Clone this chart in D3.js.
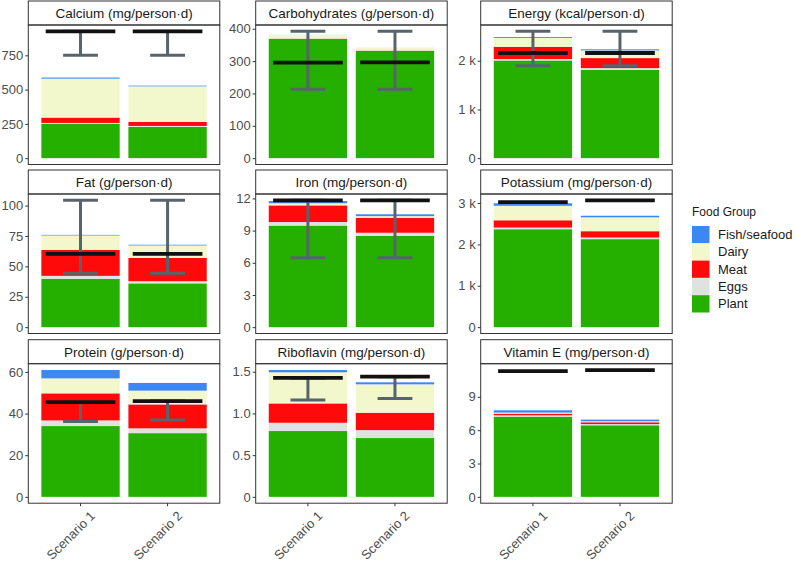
<!DOCTYPE html>
<html>
<head>
    <meta charset="UTF-8">
    <title>Nutrient supply by food group</title>
    <style>
        body { margin: 0; background: #fff; }
        svg { font-family: "Liberation Sans", Arial, sans-serif; }
        .tick text { fill: #4d4d4d; font-size: 13px; }
        .tick line { stroke: #333; }
        .domain { display: none; }
    </style>
</head>
<body>
<svg width="795" height="562"></svg>
<script src="https://d3js.org/d3.v7.min.js"></script>
<script>
    // data
    const nutrients = ["Calcium (mg/person\u00b7d)", "Carbohydrates (g/person\u00b7d)", "Energy (kcal/person\u00b7d)",
        "Fat (g/person\u00b7d)", "Iron (mg/person\u00b7d)", "Potassium (mg/person\u00b7d)",
        "Protein (g/person\u00b7d)", "Riboflavin (mg/person\u00b7d)", "Vitamin E (mg/person\u00b7d)"];
    const scenarios = ["Scenario 1", "Scenario 2"];
    const groups = ["Plant", "Eggs", "Meat", "Dairy", "Fish/seafood"];
    const colors = ["#25b000", "#e0e1e1", "#fe0a0a", "#f2f7cc", "#3d87f2"];

    // [scenario 1, scenario 2] per nutrient
    const plant = [[250, 228], [369, 332], [2006, 1814], [39.8, 36], [9.47, 8.52], [2367, 2127], [34, 30.6], [0.789, 0.705], [7.22, 6.44]];
    const eggs = [[7, 7], [0.3, 0.3], [30, 35], [2.4, 1.8], [0.33, 0.28], [40, 40], [2.7, 2.3], [0.099, 0.095], [0.12, 0.11]];
    const meat = [[39, 29], [0.5, 0.5], [250, 206], [21.3, 19.2], [1.55, 1.4], [176, 152], [13, 11.5], [0.232, 0.208], [0.15, 0.16]];
    const dairy = [[284, 260], [12, 9], [182, 157], [11.9, 10.2], [0.2, 0.15], [350, 336], [7.2, 6.6], [0.373, 0.341], [0.09, 0.09]];
    const fish = [[8, 5], [0.1, 0.1], [18, 23], [0.5, 0.6], [0.2, 0.17], [60, 38], [4, 3.7], [0.027, 0.024], [0.21, 0.15]];

    const target = [[925, 925], [295, 296], [2159, 2159], [60.2, 60.2], [11.82, 11.82], [3020, 3065], [45.5, 46], [1.425, 1.44], [11.32, 11.41]];
    const rangeLow = [[750, 750], [213, 213], [1897, 1897], [44.4, 44.4], [6.48, 6.48], null, [36.2, 36.9], [1.16, 1.18], null];
    const rangeHigh = [[925, 925], [392, 392], [2604, 2604], [104.3, 104.3], [11.82, 11.82], null, [45.5, 46], [1.425, 1.44], null];

    const tickValues = [[0, 250, 500, 750], [0, 100, 200, 300, 400], [0, 1000, 2000], [0, 25, 50, 75, 100],
        [0, 3, 6, 9, 12], [0, 1000, 2000, 3000], [0, 20, 40, 60], [0, 0.5, 1, 1.5], [0, 3, 6, 9]];
    const tickLabels = [["0", "250", "500", "750"], ["0", "100", "200", "300", "400"], ["0", "1 k", "2 k"],
        ["0", "25", "50", "75", "100"], ["0", "3", "6", "9", "12"], ["0", "1 k", "2 k", "3 k"],
        ["0", "20", "40", "60"], ["0", "0.5", "1.0", "1.5"], ["0", "3", "6", "9"]];

    const groupValues = [plant, eggs, meat, dairy, fish];

    // layout
    const colX = [28.3, 255.7, 480.7], panelW = 191.5;
    const rowY = [1, 170, 339.7], stripH = 24, plotH = 139.5;

    const svg = d3.select("svg");
    const stack = d3.stack().keys(groups);

    nutrients.forEach((name, i) => {
        const x0 = colX[i % 3], top = rowY[Math.floor(i / 3)];
        const g = svg.append("g").attr("transform", `translate(${x0},${top})`);

        const rows = scenarios.map((s, j) => {
            const r = { scenario: s };
            groups.forEach((k, gi) => r[k] = groupValues[gi][i][j]);
            return r;
        });
        const series = stack(rows);

        const maxVal = d3.max([
            d3.max(series[series.length - 1], d => d[1]),
            d3.max(target[i]),
            rangeHigh[i] ? d3.max(rangeHigh[i]) : 0
        ]);

        const x = d3.scaleBand().domain(scenarios).range([0, panelW])
            .paddingInner(0.1).paddingOuter(0.15);
        const step = x.step();
        const y = d3.scaleLinear().domain([-0.05 * maxVal, 1.05 * maxVal])
            .range([stripH + plotH, stripH]);

        // strip
        g.append("rect")
            .attr("x", 0).attr("y", 0).attr("width", panelW).attr("height", stripH)
            .attr("fill", "#fff").attr("stroke", "#333").attr("stroke-width", 1);
        g.append("text")
            .attr("x", panelW / 2).attr("y", stripH / 2 + 5)
            .attr("text-anchor", "middle")
            .attr("font-size", "13.5px").attr("fill", "#1a1a1a")
            .text(name);

        // stacked bars
        g.selectAll(".layer")
            .data(series)
            .join("g")
            .attr("fill", (d, k) => colors[k])
            .selectAll("rect")
            .data(d => d)
            .join("rect")
            .attr("x", d => x(d.data.scenario))
            .attr("width", x.bandwidth())
            .attr("y", d => y(d[1]))
            .attr("height", d => y(d[0]) - y(d[1]));

        // range error bars
        if (rangeLow[i]) {
            const eb = g.append("g").attr("stroke", "#57646b").attr("stroke-width", 3);
            scenarios.forEach((s, j) => {
                const cx = x(s) + x.bandwidth() / 2, hw = 0.2 * step;
                const lo = y(rangeLow[i][j]), hi = y(rangeHigh[i][j]);
                eb.append("line").attr("x1", cx).attr("x2", cx).attr("y1", lo).attr("y2", hi);
                eb.append("line").attr("x1", cx - hw).attr("x2", cx + hw).attr("y1", lo).attr("y2", lo);
                eb.append("line").attr("x1", cx - hw).attr("x2", cx + hw).attr("y1", hi).attr("y2", hi);
            });
        }

        // target lines
        g.selectAll(".target")
            .data(scenarios)
            .join("line")
            .attr("stroke", "#111").attr("stroke-width", 3.8)
            .attr("x1", s => x(s) + x.bandwidth() / 2 - 0.4 * step)
            .attr("x2", s => x(s) + x.bandwidth() / 2 + 0.4 * step)
            .attr("y1", (s, j) => y(target[i][j]))
            .attr("y2", (s, j) => y(target[i][j]));

        // panel border
        g.append("rect")
            .attr("x", 0).attr("y", stripH).attr("width", panelW).attr("height", plotH)
            .attr("fill", "none").attr("stroke", "#333").attr("stroke-width", 1);

        // y axis
        g.append("g")
            .call(d3.axisLeft(y).tickValues(tickValues[i]).tickSize(3).tickPadding(2)
                .tickFormat((d, k) => tickLabels[i][k]));

        // x axis labels only on bottom row
        if (i >= 6) {
            const xa = g.append("g").attr("transform", `translate(0,${stripH + plotH})`)
                .call(d3.axisBottom(x).tickSize(3).tickPadding(2));
            xa.selectAll("text")
                .attr("font-size", "14px")
                .attr("text-anchor", "end")
                .attr("dy", "0.75em")
                .attr("transform", "translate(5,3) rotate(-45)");
        }
    });

    // legend
    const legend = svg.append("g").attr("transform", "translate(692,216)");
    legend.append("text").attr("x", 0).attr("y", 0)
        .attr("font-size", "12px").attr("fill", "#1a1a1a").text("Food Group");
    const order = groups.slice().reverse();
    const keys = legend.selectAll(".key")
        .data(order)
        .join("g")
        .attr("transform", (d, k) => `translate(0,${10 + k * 17.3})`);
    keys.append("rect")
        .attr("width", 17.5).attr("height", 17.3)
        .attr("fill", d => colors[groups.indexOf(d)]);
    keys.append("text")
        .attr("x", 26).attr("y", 13)
        .attr("font-size", "13px").attr("fill", "#1a1a1a")
        .text(d => d);
</script>
</body>
</html>
